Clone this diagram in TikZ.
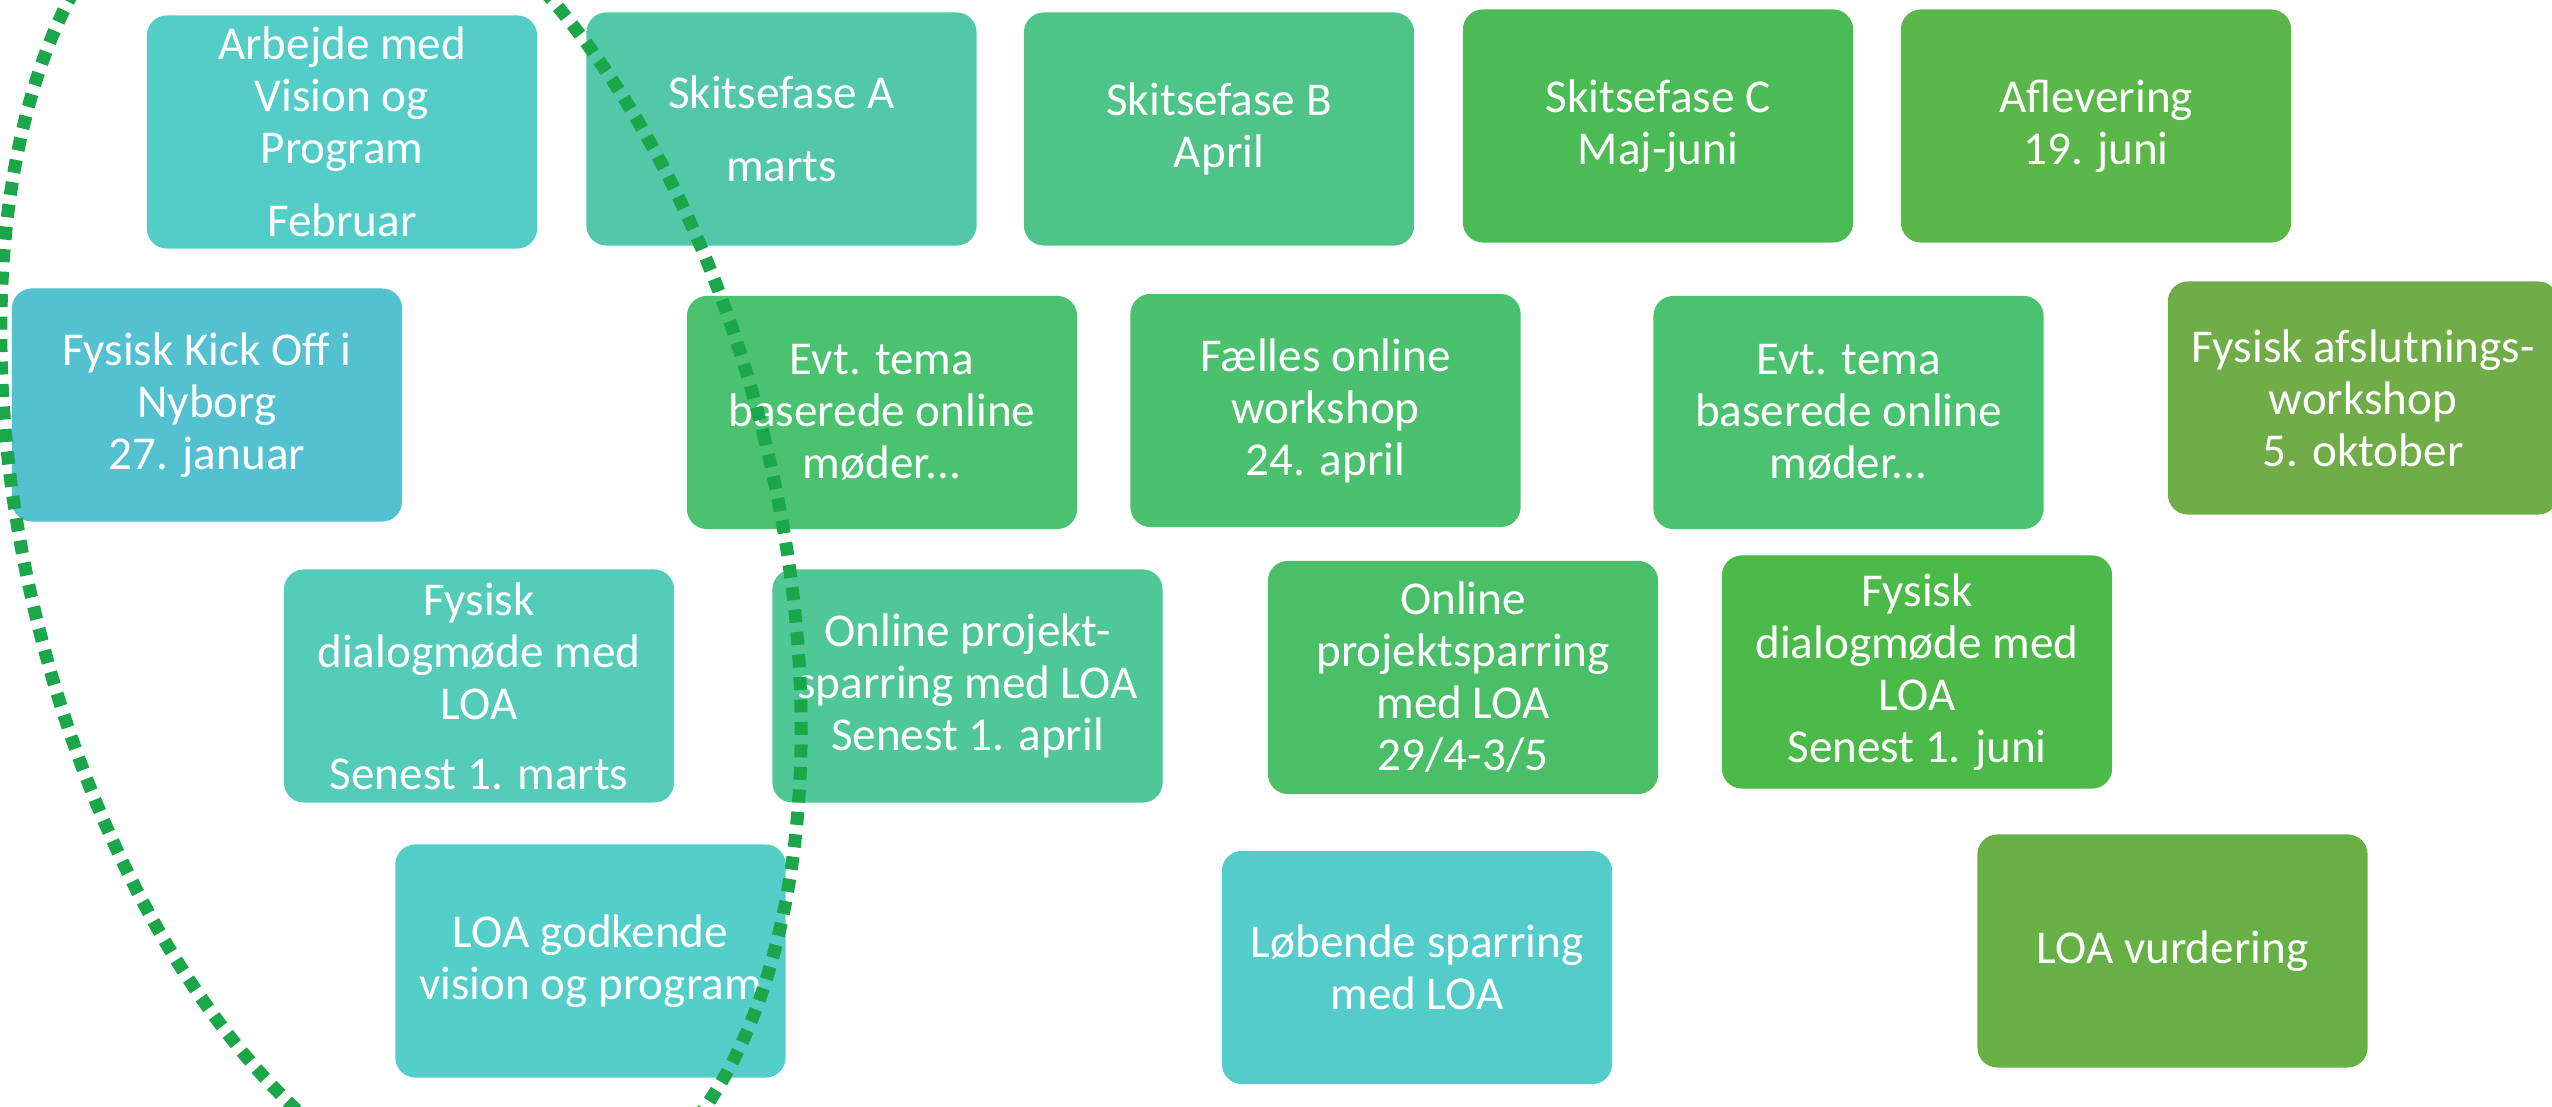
\documentclass[tikz,border=0pt]{standalone}
\usepackage{fontspec}
\setmainfont{Carlito}
\definecolor{cArb}{HTML}{54CDC8}
\definecolor{cKick}{HTML}{53C1CF}
\definecolor{cSkA}{HTML}{52C8A8}
\definecolor{cSkB}{HTML}{4FC488}
\definecolor{cSkC}{HTML}{4BBC55}
\definecolor{cAfl}{HTML}{5BB749}
\definecolor{cEvt}{HTML}{4BC270}
\definecolor{cFael}{HTML}{4BC170}
\definecolor{cAfsl}{HTML}{70AC48}
\definecolor{cDiaM}{HTML}{55CBB9}
\definecolor{cOnA}{HTML}{50C796}
\definecolor{cOnB}{HTML}{4ABF68}
\definecolor{cDiaJ}{HTML}{4BBA49}
\definecolor{cGod}{HTML}{54CEC9}
\definecolor{cLoeb}{HTML}{54CDCA}
\definecolor{cVurd}{HTML}{66B046}
\definecolor{cDot}{HTML}{1BA64A}
\begin{document}
\begin{tikzpicture}[x=0.01cm,y=0.01cm,
  box/.style={rounded corners=0.2cm, minimum width=3.9cm, minimum height=2.33cm,
    inner sep=0pt, align=center, text=white,
    font=\fontsize{13.4pt}{14.8pt}\selectfont},
  dotline/.style={draw=cDot, line width=0.13cm, dash pattern=on 0.13cm off 0.095cm}
]
\useasboundingbox (0,0) rectangle (2552,1106);
\clip (0,0) rectangle (2552,1106);
% row 1
\node[box, fill=cArb]  (arb)  at (342,974)   {Arbejde med\\Vision og\\Program\\[6pt]Februar};
\node[box, fill=cSkA]  (ska)  at (781.5,977) {Skitsefase A\\[6pt]marts};
\node[box, fill=cSkB]  (skb)  at (1219,977)  {Skitsefase B\\April};
\node[box, fill=cSkC]  (skc)  at (1658,980)  {Skitsefase C\\Maj-juni};
\node[box, fill=cAfl]  (afl)  at (2096,980)  {Aflevering\\19. juni};
% row 2
\node[box, fill=cKick] (kick) at (207,701)   {Fysisk Kick Off i\\Nyborg\\27. januar};
\node[box, fill=cEvt]  (evt1) at (882,693.5) {Evt. tema\\baserede online\\møder...};
\node[box, fill=cFael] (fael) at (1325.5,695.5) {Fælles online\\workshop\\24. april};
\node[box, fill=cEvt]  (evt2) at (1848.5,693.5) {Evt. tema\\baserede online\\møder...};
\node[box, fill=cAfsl] (afsl) at (2363,708)  {Fysisk afslutnings-\\workshop\\5. oktober};
% row 3
\node[box, fill=cDiaM] (diam) at (479,420)   {Fysisk\\dialogmøde med\\LOA\\[5pt]Senest 1. marts};
\node[box, fill=cOnA]  (ona)  at (967.5,420) {Online projekt-\\sparring med LOA\\Senest 1. april};
\node[box, fill=cOnB]  (onb)  at (1463,428.5) {Online\\projektsparring\\med LOA\\29/4-3/5};
\node[box, fill=cDiaJ] (diaj) at (1917,434)  {Fysisk\\dialogmøde med\\LOA\\Senest 1. juni};
% row 4
\node[box, fill=cGod]  (god)  at (590.5,145) {LOA godkende\\vision og program};
\node[box, fill=cLoeb] (loeb) at (1417,138.5) {Løbende sparring\\med LOA};
\node[box, fill=cVurd] (vurd) at (2172.5,155) {LOA vurdering};
% dotted ellipse
\coordinate (ec) at (401,575.5);
\draw[dotline, rotate around={13.7:(ec)}] (ec) ellipse [x radius=375, y radius=698];
\end{tikzpicture}
\end{document}
